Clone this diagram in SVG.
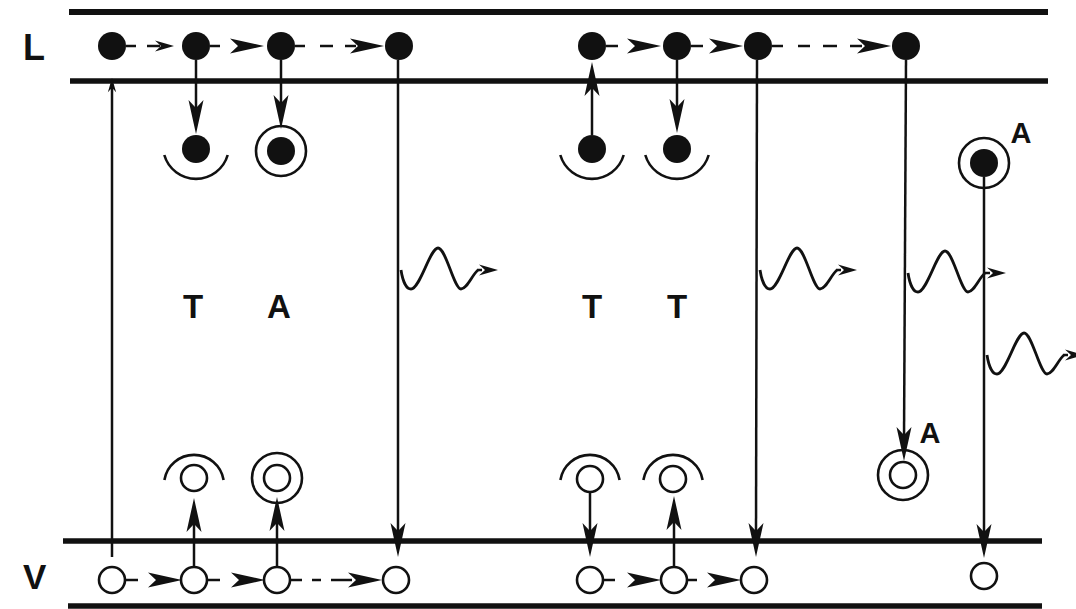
<svg xmlns="http://www.w3.org/2000/svg" width="1076" height="609" viewBox="0 0 1076 609">
<style>
.band{stroke:#111;stroke-width:5.5;fill:none}
.ln{stroke:#111;stroke-width:2.5;fill:none}
.fc{fill:#111}
.oc{fill:#fff;stroke:#111;stroke-width:2.6}
.ring{fill:none;stroke:#111;stroke-width:2.6}
.lbl{font-family:"Liberation Sans",Arial,sans-serif;font-weight:bold;fill:#111}
.wave{fill:none;stroke:#111;stroke-width:2.8}
</style>
<defs>
<path id="dart" d="M0,0 L-34,-7.5 L-26,0 L-34,7.5 Z" fill="#111"/>
<path id="sdart" d="M0,0 L-19,-5.5 L-13,0 L-19,5.5 Z" fill="#111"/>
<path id="w" d="M0,0 C2,13 6,19 10,19 C19,19 29,-22 37,-22 C45,-22 53,19 60,19 C66,19 71,5 77,0"/>
</defs>
<rect width="1076" height="609" fill="#fff"/>
<g id="bands">
<line class="band" x1="69" y1="12" x2="1048" y2="12" style="stroke-width:6"/>
<line class="band" x1="70" y1="81" x2="1048" y2="81"/>
<line class="band" x1="63" y1="541" x2="1042" y2="541"/>
<line class="band" x1="68" y1="606" x2="1042" y2="606"/>
</g>
<g id="labels">
<text class="lbl" x="23" y="60" font-size="36">L</text>
<text class="lbl" x="23" y="589" font-size="35">V</text>
<text class="lbl" x="193" y="318" font-size="33" text-anchor="middle">T</text>
<text class="lbl" x="279" y="318" font-size="33" text-anchor="middle">A</text>
<text class="lbl" x="592" y="318" font-size="33" text-anchor="middle">T</text>
<text class="lbl" x="677" y="318" font-size="33" text-anchor="middle">T</text>
<text class="lbl" x="1021" y="143" font-size="29" text-anchor="middle">A</text>
<text class="lbl" x="930" y="443" font-size="29" text-anchor="middle">A</text>
</g>
<g id="connectors">
<line class="ln" x1="126" y1="46" x2="136" y2="46"/>
<line class="ln" x1="147" y1="46" x2="160" y2="46"/>
<use href="#sdart" transform="translate(174,46)"/>
<line class="ln" x1="210" y1="46" x2="220" y2="46"/>
<use href="#dart" transform="translate(264,46)"/>
<line class="ln" x1="295" y1="46" x2="305" y2="46"/>
<line class="ln" x1="320" y1="46" x2="333" y2="46"/>
<line class="ln" x1="345" y1="46" x2="356" y2="46"/>
<use href="#dart" transform="translate(384,46)"/>
<line class="ln" x1="606" y1="46" x2="618" y2="46"/>
<use href="#dart" transform="translate(661,46)"/>
<line class="ln" x1="691" y1="46" x2="703" y2="46"/>
<use href="#dart" transform="translate(743,46)"/>
<line class="ln" x1="772" y1="46" x2="783" y2="46"/>
<line class="ln" x1="798" y1="46" x2="810" y2="46"/>
<line class="ln" x1="823" y1="46" x2="837" y2="46"/>
<line class="ln" x1="850" y1="46" x2="862" y2="46"/>
<use href="#dart" transform="translate(891,46)"/>
<line class="ln" x1="125" y1="580" x2="138" y2="580"/>
<use href="#dart" transform="translate(182,580)"/>
<line class="ln" x1="207" y1="580" x2="220" y2="580"/>
<use href="#dart" transform="translate(265,580)"/>
<line class="ln" x1="290" y1="580" x2="302" y2="580"/>
<line class="ln" x1="312" y1="580" x2="321" y2="580"/>
<line class="ln" x1="331" y1="580" x2="352" y2="580"/>
<use href="#dart" transform="translate(382,580)"/>
<line class="ln" x1="603" y1="580" x2="615" y2="580"/>
<use href="#dart" transform="translate(661,580)"/>
<line class="ln" x1="687" y1="580" x2="697" y2="580"/>
<use href="#dart" transform="translate(741,580)"/>
<line class="ln" x1="112" y1="557" x2="112" y2="84"/>
<use href="#sdart" transform="translate(112,78) rotate(-90) scale(0.75)"/>
<line class="ln" x1="196" y1="60" x2="196" y2="110"/>
<use href="#dart" transform="translate(196,134) rotate(90)"/>
<line class="ln" x1="281" y1="60" x2="281" y2="105"/>
<use href="#dart" transform="translate(281,129) rotate(90)"/>
<line class="ln" x1="398" y1="60" x2="398" y2="535"/>
<use href="#dart" transform="translate(398,557) rotate(90)"/>
<line class="ln" x1="194" y1="567" x2="194" y2="520"/>
<use href="#dart" transform="translate(194,498) rotate(-90)"/>
<line class="ln" x1="277" y1="567" x2="277" y2="520"/>
<use href="#dart" transform="translate(277,497) rotate(-90)"/>
<line class="ln" x1="592" y1="135" x2="592" y2="85"/>
<use href="#dart" transform="translate(592,62) rotate(-90)"/>
<line class="ln" x1="677" y1="60" x2="677" y2="110"/>
<use href="#dart" transform="translate(677,133) rotate(90)"/>
<line class="ln" x1="757" y1="60" x2="756" y2="535"/>
<use href="#dart" transform="translate(756,557) rotate(90)"/>
<line class="ln" x1="906" y1="60" x2="904" y2="440"/>
<use href="#dart" transform="translate(904,461) rotate(90)"/>
<line class="ln" x1="984" y1="177" x2="984" y2="535"/>
<use href="#dart" transform="translate(984,558) rotate(90)"/>
<line class="ln" x1="590" y1="492" x2="590" y2="535"/>
<use href="#dart" transform="translate(590,557) rotate(90)"/>
<line class="ln" x1="674" y1="567" x2="674" y2="520"/>
<use href="#dart" transform="translate(674,496) rotate(-90)"/>
<use href="#w" class="wave" transform="translate(401,270)"/>
<use href="#sdart" transform="translate(498,270)"/>
<line class="ln" x1="477" y1="270" x2="482" y2="270"/>
<use href="#w" class="wave" transform="translate(760,270)"/>
<use href="#sdart" transform="translate(857,270)"/>
<line class="ln" x1="836" y1="270" x2="841" y2="270"/>
<use href="#w" class="wave" transform="translate(908,273)"/>
<use href="#sdart" transform="translate(1006,273)"/>
<line class="ln" x1="984" y1="273" x2="990" y2="273"/>
<use href="#w" class="wave" transform="translate(987,355)"/>
<use href="#sdart" transform="translate(1084,355)"/>
<line class="ln" x1="1063" y1="355" x2="1068" y2="355"/>
</g>
<g id="n-L1"><circle class="fc" cx="112" cy="46" r="14"/></g>
<g id="n-L2"><circle class="fc" cx="196" cy="46" r="14"/></g>
<g id="n-L3"><circle class="fc" cx="281" cy="46" r="14"/></g>
<g id="n-L4"><circle class="fc" cx="399" cy="46" r="14"/></g>
<g id="n-L5"><circle class="fc" cx="592" cy="46" r="14"/></g>
<g id="n-L6"><circle class="fc" cx="677" cy="46" r="14"/></g>
<g id="n-L7"><circle class="fc" cx="758" cy="46" r="14"/></g>
<g id="n-L8"><circle class="fc" cx="906" cy="46" r="14"/></g>
<g id="n-T1"><circle class="fc" cx="196" cy="149" r="14"/><path class="ring" d="M164.3,155 A33,33 0 0 0 227.7,155"/></g>
<g id="n-A1"><circle class="fc" cx="281" cy="151" r="14"/><circle class="ring" cx="281" cy="151" r="25"/></g>
<g id="n-T2"><circle class="fc" cx="592" cy="149" r="14"/><path class="ring" d="M560.3,155 A33,33 0 0 0 623.7,155"/></g>
<g id="n-T3"><circle class="fc" cx="677" cy="149" r="14"/><path class="ring" d="M645.3,155 A33,33 0 0 0 708.7,155"/></g>
<g id="n-A2"><circle class="fc" cx="984" cy="163" r="14"/><circle class="ring" cx="984" cy="163" r="25"/></g>
<g id="n-T4"><circle class="oc" cx="194" cy="478" r="13"/><path class="ring" d="M164.4,480 A30,30 0 0 1 223.6,480"/></g>
<g id="n-A3"><circle class="oc" cx="277" cy="478" r="13"/><circle class="ring" cx="277" cy="478" r="25"/></g>
<g id="n-T5"><circle class="oc" cx="590" cy="479" r="13"/><path class="ring" d="M560.4,480 A30,30 0 0 1 619.6,480"/></g>
<g id="n-T6"><circle class="oc" cx="673" cy="479" r="13"/><path class="ring" d="M643.4,480 A30,30 0 0 1 702.6,480"/></g>
<g id="n-A4"><circle class="oc" cx="903" cy="475" r="13"/><circle class="ring" cx="903" cy="475" r="25"/></g>
<g id="n-V1"><circle class="oc" cx="112" cy="580" r="13"/></g>
<g id="n-V2"><circle class="oc" cx="194" cy="580" r="13"/></g>
<g id="n-V3"><circle class="oc" cx="277" cy="580" r="13"/></g>
<g id="n-V4"><circle class="oc" cx="396" cy="580" r="13"/></g>
<g id="n-V5"><circle class="oc" cx="590" cy="580" r="13"/></g>
<g id="n-V6"><circle class="oc" cx="674" cy="580" r="13"/></g>
<g id="n-V7"><circle class="oc" cx="754" cy="580" r="13"/></g>
<g id="n-V8"><circle class="oc" cx="984" cy="576" r="13"/></g>
</svg>
